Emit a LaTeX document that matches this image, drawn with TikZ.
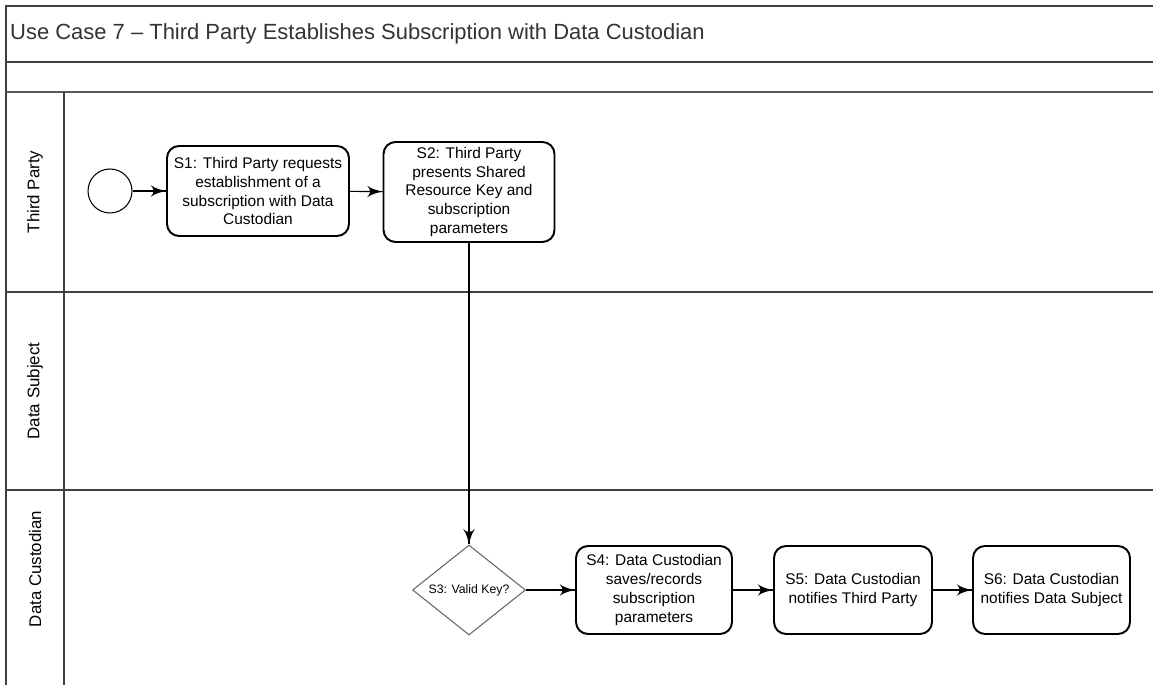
\documentclass[tikz,border=0pt]{standalone}
\usepackage{fontspec}
\setmainfont{Liberation Sans}
\usetikzlibrary{arrows}
\usetikzlibrary{decorations.markings}
\usetikzlibrary{positioning}
\usetikzlibrary{shapes.geometric}
\tikzset{->/.style = {decoration={markings,
                                  mark=at position 1 with {\arrow[scale=1.9]{latex'}}},
                      postaction={decorate}}}
\tikzset{task/.style = {draw, line width = 1.1pt, rounded corners = 0.24cm, align = center,
                        inner sep = 0, font = \fontsize{8.8}{10.8}\selectfont}}
\tikzset{gate/.style = {draw = black!60, line width = 0.6pt, diamond, aspect = 1.25, inner sep = 0,
                        minimum width = 2.26cm, minimum height = 1.8cm, font = \fontsize{7}{8}\selectfont}}
\tikzset{lane/.style = {draw = black!75, line width = 0.8pt}}
\tikzset{lanelabel/.style = {rotate = 90, font = \fontsize{9.6}{11}\selectfont}}
\definecolor{mgray}{rgb}{0.2, 0.2, 0.2}

\begin{document}
\begin{tikzpicture}[x = 0.02cm, y = -0.02cm]
    \useasboundingbox (0, 0) rectangle (1153, 685);

    \draw [lane] (1153, 6) -- (6, 6) -- (6, 685);
    \draw [lane] (6, 62) -- (1153, 62);
    \draw [lane, line width = 1.3pt, draw = black!65] (6, 92) -- (1153, 92);
    \draw [lane] (64, 92) -- (64, 685);
    \draw [lane] (6, 292) -- (1153, 292);
    \draw [lane] (6, 490) -- (1153, 490);

    \node [anchor = west, font = \fontsize{12.5}{14}\selectfont, text = mgray] (title) at (4, 34)
        {Use Case 7 -- Third Party Establishes Subscription with Data Custodian};

    \node [lanelabel] (tplane) at (35, 192) {Third Party};
    \node [lanelabel] (dslane) at (35, 391) {Data Subject};
    \node [lanelabel] (dclane) at (35, 569) {Data Custodian};

    \node [draw, circle, line width = 0.6pt, minimum size = 0.88cm, inner sep = 0] (start) at (110, 191) {};
    \node [task, minimum width = 3.64cm, minimum height = 1.8cm] (s1) at (258, 191)
        {S1: Third Party requests\\establishment of a\\subscription with Data\\Custodian};
    \node [task, minimum width = 3.42cm, minimum height = 2cm] (s2) at (469, 192)
        {S2: Third Party\\presents Shared\\Resource Key and\\subscription\\parameters};
    \node [gate] (s3) at (469, 590) {S3: Valid Key?};
    \node [task, minimum width = 3.12cm, minimum height = 1.76cm] (s4) at (654, 590)
        {S4: Data Custodian\\saves/records\\subscription\\parameters};
    \node [task, minimum width = 3.16cm, minimum height = 1.76cm] (s5) at (853, 590)
        {S5: Data Custodian\\notifies Third Party};
    \node [task, minimum width = 3.14cm, minimum height = 1.76cm] (s6) at (1051.5, 590)
        {S6: Data Custodian\\notifies Data Subject};

    \draw [->, line width = 0.6pt] (start) -- (s1);
    \draw [->, line width = 0.6pt] (s1) -- (s2);
    \draw [->, line width = 0.6pt] (s2) -- (s3);
    \draw [->, line width = 0.6pt] (s3) -- (s4);
    \draw [->, line width = 0.6pt] (s4) -- (s5);
    \draw [->, line width = 0.6pt] (s5) -- (s6);
  \end{tikzpicture}
\end{document}
